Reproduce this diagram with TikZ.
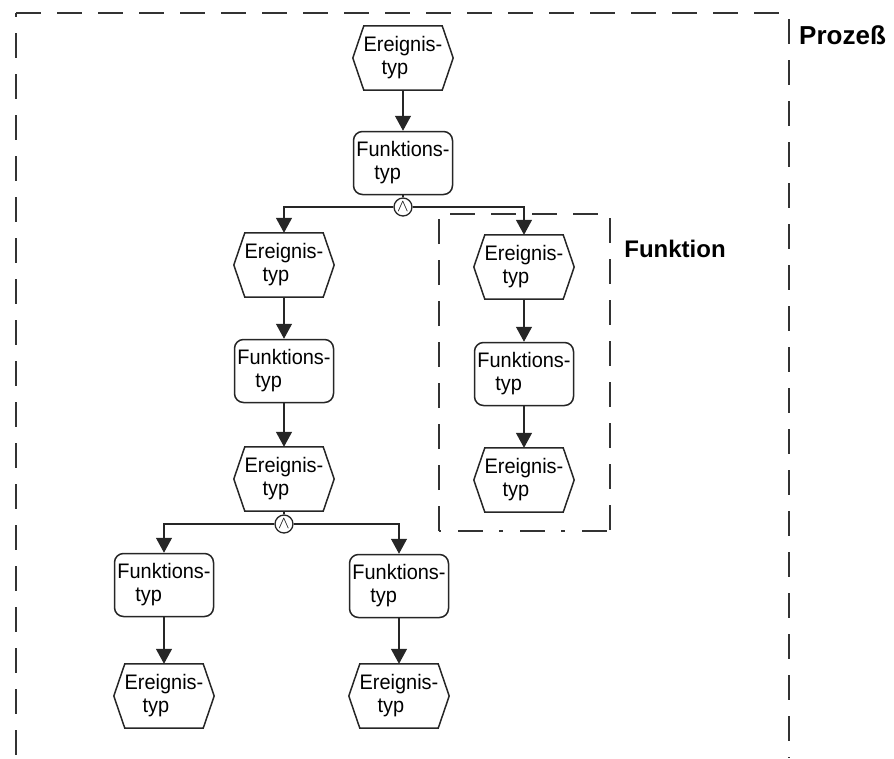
\documentclass[tikz,border=0pt]{standalone}
\usepackage{fontspec}
\setmainfont{Liberation Sans}
\newfontfamily\narrowsans[FakeStretch=0.95]{Liberation Sans}
\usetikzlibrary{arrows.meta}
\newcommand{\nodefont}{\narrowsans\fontsize{21}{23}\selectfont}
\newcommand{\labelfont}{\bfseries\fontsize{24}{28}\selectfont}
\begin{document}
\begin{tikzpicture}[x=1pt,y=-1pt,
  hexline/.style={draw=black!85, line width=1.5pt, line join=miter},
  funk/.style={draw=black!85, line width=1.5pt, rounded corners=9pt,
    minimum width=99pt, minimum height=63pt, inner sep=0pt,
    align=left, font=\nodefont},
  ereig/.style={minimum width=100pt, minimum height=64pt, inner sep=0pt,
    align=left, font=\nodefont,
    append after command={\pgfextra{\draw[hexline]
      ([xshift=11pt]\tikzlastnode.north west) --
      ([xshift=-11pt]\tikzlastnode.north east) --
      (\tikzlastnode.east) --
      ([xshift=-11pt]\tikzlastnode.south east) --
      ([xshift=11pt]\tikzlastnode.south west) --
      (\tikzlastnode.west) -- cycle;}}},
  andc/.style={circle, draw=black!85, line width=1.3pt, minimum size=18pt,
    inner sep=0pt, font=\fontsize{16}{16}\selectfont},
  conn/.style={draw=black!85, line width=1.3pt,
    -{Triangle[width=16pt,length=15pt]}},
  plain/.style={draw=black!85, line width=1.3pt},
  frame/.style={draw=black!80, line width=1.3pt, dash pattern=on 25pt off 16pt},
  frametail/.style={draw=black!80, line width=1.3pt,
    dash pattern=on 25pt off 16pt on 4pt off 17pt},
  bigtext/.style={font=\labelfont, inner sep=0pt}
]
\useasboundingbox (0,0) rectangle (894,758);

% process frame, open at the bottom
\draw[frame] (16,13) -- (789,13) -- (789,758);
\draw[frame, dash phase=21pt] (16,13) -- (16,758);
\node[bigtext, anchor=west, font=\bfseries\fontsize{26}{30}\selectfont]
  (lproc) at (799,35) {Prozeß};

% function frame
\draw[frame] (439,531) -- (439,214) -- (610,214) -- (610,531);
\draw[frametail, dash phase=-19pt] (439,531) -- (610,531);
\node[bigtext] (lfunk) at (675,249) {Funktion};

% main chain
\node[ereig] (e1) at (403,58)  {Ereignis-\\\hspace*{18pt}typ};
\node[funk]  (f1) at (403,163) {Funktions-\\\hspace*{18pt}typ};
\node[andc]  (a1) at (403,207) {$\wedge$};

% left branch
\node[ereig] (e2) at (284,265) {Ereignis-\\\hspace*{18pt}typ};
\node[funk]  (f2) at (284,371) {Funktions-\\\hspace*{18pt}typ};
\node[ereig] (e4) at (284,479) {Ereignis-\\\hspace*{18pt}typ};
\node[andc]  (a2) at (284,524) {$\wedge$};

% right branch
\node[ereig] (e3) at (524,267) {Ereignis-\\\hspace*{18pt}typ};
\node[funk]  (f3) at (524,374) {Funktions-\\\hspace*{18pt}typ};
\node[ereig] (e5) at (524,480) {Ereignis-\\\hspace*{18pt}typ};

% lower branches
\node[funk]  (f4) at (164,585) {Funktions-\\\hspace*{18pt}typ};
\node[ereig] (e6) at (164,696) {Ereignis-\\\hspace*{18pt}typ};
\node[funk]  (f5) at (399,586) {Funktions-\\\hspace*{18pt}typ};
\node[ereig] (e7) at (399,696) {Ereignis-\\\hspace*{18pt}typ};

% connectors
\draw[conn]  (e1) -- (f1);
\draw[plain] (f1) -- (a1);
\draw[conn]  (a1) -| (e2);
\draw[conn]  (a1) -| (e3);
\draw[conn]  (e2) -- (f2);
\draw[conn]  (f2) -- (e4);
\draw[plain] (e4) -- (a2);
\draw[conn]  (a2) -| (f4);
\draw[conn]  (a2) -| (f5);
\draw[conn]  (e3) -- (f3);
\draw[conn]  (f3) -- (e5);
\draw[conn]  (f4) -- (e6);
\draw[conn]  (f5) -- (e7);
\end{tikzpicture}
\end{document}
